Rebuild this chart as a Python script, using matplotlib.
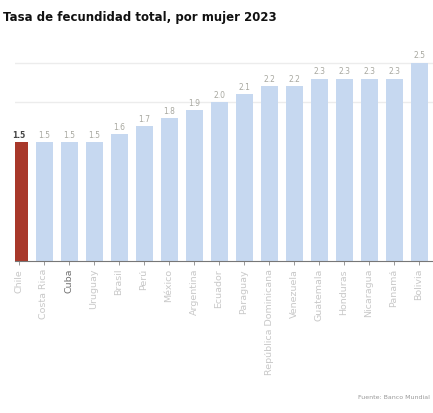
import matplotlib
matplotlib.use("Agg")
import matplotlib.pyplot as plt

countries = ["Chile", "Costa Rica", "Cuba", "Uruguay", "Brasil", "Perú", "México",
             "Argentina", "Ecuador", "Paraguay", "República Dominicana", "Venezuela",
             "Guatemala", "Honduras", "Nicaragua", "Panamá", "Bolivia"]
values = [1.5, 1.5, 1.5, 1.5, 1.6, 1.7, 1.8, 1.9, 2.0, 2.1, 2.2, 2.2, 2.3, 2.3, 2.3, 2.3, 2.5]
highlight = "Chile"
dark_label = "Cuba"
grid_values = [2.0, 2.5]
title = "Tasa de fecundidad total, por mujer 2023"
source = "Fuente: Banco Mundial"

W, H = 433, 414
fig = plt.figure(figsize=(W / 100, H / 100), dpi=100)
ax = fig.add_axes([15 / W, (H - 262) / H, (W - 15) / W, (262 - 24) / H])

red = "#a8382a"
blue = "#c6d8f0"
colors = [red if c == highlight else blue for c in countries]
x = list(range(len(countries)))
ax.bar(x, values, width=0.68, color=colors, zorder=2)

for xi, v, c in zip(x, values, countries):
    if c == highlight:
        ax.annotate(f"{v:.1f}", (xi, v), xytext=(0, 2.5), textcoords="offset points",
                    ha="center", va="bottom", fontsize=5.5, color="#444444", fontweight="bold")
    else:
        ax.annotate(f"{v:.1f}", (xi, v), xytext=(0, 2.5), textcoords="offset points",
                    ha="center", va="bottom", fontsize=5.5, color="#a8a8a0")

ax.set_xlim(-0.16, 16.56)
ax.set_ylim(0, 3.0)
ax.set_yticks(grid_values)
ax.yaxis.grid(True, color="#ececec", linewidth=1.0, zorder=0)
ax.tick_params(axis="y", length=0, labelleft=False)
ax.set_axisbelow(True)

ax.set_xticks(x)
ax.set_xticklabels(countries, rotation=90, fontsize=6.8, color="#c8c8c8")
for lbl in ax.get_xticklabels():
    if lbl.get_text() == dark_label:
        lbl.set_color("#707070")
ax.tick_params(axis="x", length=3, width=0.6, color="#888888", pad=2)

for s in ["top", "right", "left"]:
    ax.spines[s].set_visible(False)
ax.spines["bottom"].set_color("#777777")
ax.spines["bottom"].set_linewidth(0.8)

fig.text(277 / W, 1 - 17 / H, title, ha="right", va="center", fontsize=8.5,
         fontweight="bold", color="#111111")
fig.text(430 / W, 1 - 398 / H, source, ha="right", va="center", fontsize=4.5, color="#999999")

fig.savefig("out.png", dpi=100)
